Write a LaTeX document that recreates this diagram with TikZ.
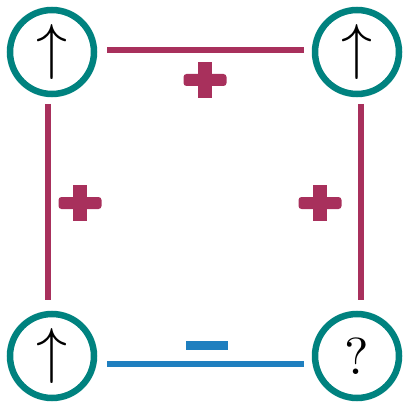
\documentclass[tikz,border=0pt]{standalone}
\begin{document}
\begin{tikzpicture}[x=1pt,y=-1pt,
  vnode/.style={circle,draw=tealc,line width=6.5pt,fill=white,minimum size=84pt,inner sep=0pt},
  posline/.style={draw=magc,line width=6pt},
  negline/.style={draw=bluec,line width=6pt},
  plusbar/.style={fill=magc,rounded corners=3pt},
  minusbar/.style={fill=bluec}]
\definecolor{tealc}{HTML}{00827F}
\definecolor{magc}{HTML}{A8305C}
\definecolor{bluec}{HTML}{1F7FBF}
\useasboundingbox (0,0) rectangle (402,403);
\node[vnode] (tl) at (52,52) {\scalebox{6.2}{$\uparrow$}};
\node[vnode] (tr) at (357,52) {\scalebox{6.2}{$\uparrow$}};
\node[vnode] (bl) at (52,356) {\scalebox{6.2}{$\uparrow$}};
\node[vnode] (br) at (357,356) {\scalebox{5.2}{?}};
\coordinate (t1) at (107,50); \coordinate (t2) at (304,50);
\coordinate (l1) at (48,104); \coordinate (l2) at (48,300);
\coordinate (r1) at (361,104); \coordinate (r2) at (361,300);
\coordinate (b1) at (107,364); \coordinate (b2) at (304,364);
\draw[posline] (t1) -- (t2);
\draw[posline] (l1) -- (l2);
\draw[posline] (r1) -- (r2);
\draw[negline] (b1) -- (b2);
% plus signs
\foreach \cx/\cy in {205/80, 80/203, 320/203}{
  \fill[plusbar] (\cx-21.5,\cy-6) rectangle (\cx+21.5,\cy+6);
  \fill[magc] (\cx-7,\cy-18) rectangle (\cx+7,\cy+18);
}
\fill[minusbar] (186,341) rectangle (228,349.5);
\end{tikzpicture}
\end{document}
